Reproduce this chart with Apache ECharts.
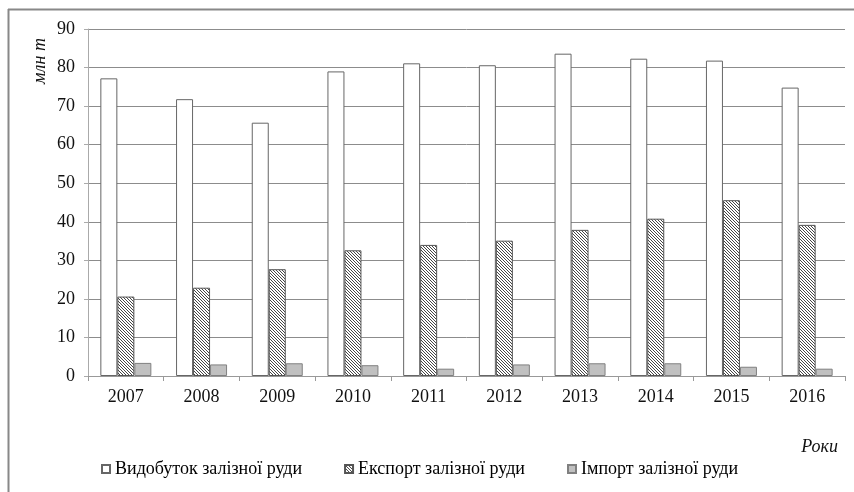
<!DOCTYPE html>
<html>
<head>
<meta charset="utf-8">
<script src="https://cdn.jsdelivr.net/npm/echarts@6/dist/echarts.min.js"></script>
<style>
html,body{margin:0;padding:0;background:#fff;}
#chart{width:854px;height:492px;}
</style>
</head>
<body>
<div id="chart"></div>
<script>
var years = ['2007','2008','2009','2010','2011','2012','2013','2014','2015','2016'];
var seriesNames = ['Видобуток залізної руди','Експорт залізної руди','Імпорт залізної руди'];
var production = [77.2, 71.8, 65.7, 79.0, 81.1, 80.6, 83.6, 82.3, 81.8, 74.8];
var exportVals = [20.6, 22.9, 27.7, 32.6, 34.0, 35.1, 37.9, 40.8, 45.6, 39.2];
var importVals = [3.4, 3.0, 3.3, 2.8, 1.9, 3.0, 3.3, 3.3, 2.4, 1.9];
var yAxisTitle = 'млн т';
var xAxisTitle = 'Роки';

function makeHatch() {
  var s = 6;
  var c = document.createElement('canvas');
  c.width = s; c.height = s;
  var ctx = c.getContext('2d');
  var img = ctx.createImageData(s, s);
  for (var y = 0; y < s; y++) {
    for (var x = 0; x < s; x++) {
      var i = (y * s + x) * 4;
      var dark = ((x - y) % 3 + 3) % 3 === 0;
      var v = dark ? 70 : 255;
      img.data[i] = v; img.data[i+1] = v; img.data[i+2] = v; img.data[i+3] = 255;
    }
  }
  ctx.putImageData(img, 0, 0);
  return c;
}

var FONT = '"Liberation Serif", "Times New Roman", serif';
var chart = echarts.init(document.getElementById('chart'), null, {renderer: 'canvas'});
var hatch = {image: makeHatch(), repeat: 'repeat'};

var option = {
  backgroundColor: '#ffffff',
  animation: false,
  grid: {left: 88, top: 29, right: 9, bottom: 116},
  legend: {
    left: 96, top: 455,
    itemWidth: 8, itemHeight: 8, itemGap: 42,
    icon: 'rect',
    textStyle: {fontFamily: FONT, fontSize: 18, color: '#000'},
    data: seriesNames
  },
  xAxis: {
    type: 'category',
    data: years,
    axisLine: {lineStyle: {color: '#999', width: 1}},
    axisTick: {show: true, length: 5, lineStyle: {color: '#999'}},
    axisLabel: {fontFamily: FONT, fontSize: 18, color: '#111', margin: 12}
  },
  yAxis: {
    type: 'value',
    min: 0, max: 90, interval: 10,
    axisLine: {show: true, lineStyle: {color: '#aaa', width: 1}},
    axisTick: {show: true, length: 4, lineStyle: {color: '#aaa'}},
    axisLabel: {fontFamily: FONT, fontSize: 18, color: '#111', margin: 13},
    splitLine: {lineStyle: {color: '#8c8c8c', width: 1}}
  },
  series: [
    {
      name: seriesNames[0], type: 'bar', data: production,
      barWidth: 17, barGap: '0%',
      itemStyle: {color: '#ffffff', borderColor: '#666', borderWidth: 1}
    },
    {
      name: seriesNames[1], type: 'bar', data: exportVals,
      barWidth: 17, barGap: '0%',
      itemStyle: {color: hatch, borderColor: '#555', borderWidth: 1}
    },
    {
      name: seriesNames[2], type: 'bar', data: importVals,
      barWidth: 17, barGap: '0%',
      itemStyle: {color: '#c0c0c0', borderColor: '#808080', borderWidth: 1}
    }
  ],
  graphic: [
    {type: 'line', shape: {x1: 8, y1: 9.5, x2: 854, y2: 9.5}, style: {stroke: '#888', lineWidth: 2}},
    {type: 'line', shape: {x1: 8.5, y1: 9, x2: 8.5, y2: 492}, style: {stroke: '#888', lineWidth: 2}},
    {type: 'text', x: 40, y: 61, rotation: Math.PI / 2,
     style: {text: yAxisTitle, x: 0, y: 0, align: 'center', verticalAlign: 'middle',
             font: 'italic 18px ' + FONT, fill: '#111'}},
    {type: 'text', x: 838, y: 447,
     style: {text: xAxisTitle, x: 0, y: 0, align: 'right', verticalAlign: 'middle',
             font: 'italic 18px ' + FONT, fill: '#111'}}
  ]
};
chart.setOption(option);
</script>
</body>
</html>
